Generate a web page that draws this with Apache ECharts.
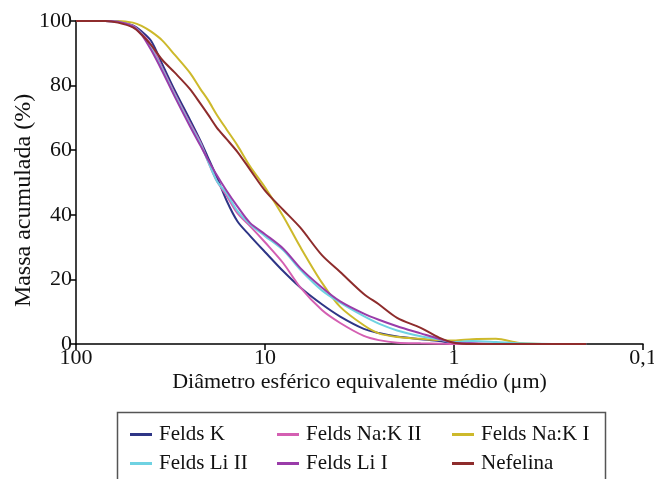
<!DOCTYPE html>
<html>
<head>
<meta charset="utf-8">
<script src="https://cdn.jsdelivr.net/npm/echarts@6/dist/echarts.min.js"></script>
<style>
  html, body { margin: 0; padding: 0; background: #fff; }
  #chart { width: 654px; height: 479px; }
</style>
</head>
<body>
<div id="chart"></div>
<script>
// diâmetro (µm), eixo log invertido
var diam = [100, 70, 60, 50, 45, 40, 35, 30, 25, 22, 20, 18, 16, 14, 12, 10, 8, 6.5, 5, 4, 3, 2.5, 2, 1.5, 1.2, 1, 0.8, 0.6, 0.45, 0.3, 0.2];

// massa acumulada (%)
var feldsK     = [100, 100, 99.8, 98.6, 96.8, 93.8, 86.7, 78.5, 69.5, 63, 57.7, 51.7, 44.5, 38, 33.5, 28.5, 22.5, 17.5, 12.3, 8.5, 4.7, 3.4, 2.3, 1.5, 0.9, 0.3, 0.1, 0, 0, 0, 0];
var feldsNaKII = [100, 100, 99.8, 98.5, 96.2, 92.5, 85.5, 77.5, 68.5, 62.5, 56.5, 50.5, 46, 40.5, 36.5, 31.5, 25, 17.5, 10.5, 6.5, 2.5, 1.2, 0.4, 0.2, 0.1, 0, 0, 0, 0, 0, 0];
var feldsNaKI  = [100, 100, 100, 99.5, 98.5, 96.7, 94, 89.5, 84, 79, 75.5, 71, 66.5, 61.5, 55, 48.5, 39.5, 30, 19, 11.5, 5.8, 3.3, 2.2, 1.6, 1.2, 1.1, 1.5, 1.6, 0.3, 0, 0];
var feldsLiII  = [100, 100, 99.8, 98.3, 96, 91.5, 85, 77, 68, 62, 56.5, 50.5, 46.7, 41.2, 37.1, 33.4, 29, 23, 16.6, 12.8, 8.6, 6.3, 4.2, 2.4, 1.4, 0.6, 0.9, 0.6, 0.2, 0, 0];
var feldsLiI   = [100, 100, 99.8, 98.3, 95.8, 91, 84.5, 76.5, 67.5, 61.5, 57, 52.3, 47.5, 42.6, 37.5, 34, 29.5, 23.5, 17.5, 13.2, 9.4, 7.5, 5.5, 3.3, 1.6, 0.4, 0.2, 0, 0, 0, 0];
var nefelina   = [100, 100, 99.5, 98, 95.8, 92.5, 88, 84, 79, 74.5, 71, 67, 63.5, 59.5, 54, 47.5, 41.5, 36, 27.5, 22.3, 15.5, 12.3, 8.1, 5, 2, 0.4, 0, 0, 0, 0, 0];

var names  = ['Felds K', 'Felds Na:K II', 'Felds Na:K I', 'Felds Li II', 'Felds Li I', 'Nefelina'];
var values = [feldsK, feldsNaKII, feldsNaKI, feldsLiII, feldsLiI, nefelina];
var colors = ['#2e3586', '#d45fb2', '#cdb92b', '#6fd2e2', '#9a3ca9', '#8e2c2c'];

var xTicks = [100, 10, 1, 0.1];
var yTicks = [0, 20, 40, 60, 80, 100];

var font = '"Liberation Serif", "DejaVu Serif", serif';

function pairs(ys) {
  var out = [];
  for (var i = 0; i < diam.length; i++) out.push([diam[i], ys[i]]);
  return out;
}

var series = [];
for (var k = 0; k < names.length; k++) {
  series.push({
    name: names[k],
    type: 'line',
    data: pairs(values[k]),
    showSymbol: false,
    smooth: 0.3,
    lineStyle: { width: 2, color: colors[k] },
    itemStyle: { color: colors[k] }
  });
}

function legendCol(left, items) {
  return {
    orient: 'vertical',
    left: left,
    top: 424,
    padding: 0,
    itemGap: 8,
    itemWidth: 22,
    itemHeight: 3,
    icon: 'rect',
    data: items,
    textStyle: { fontFamily: font, fontSize: 21, color: '#111', lineHeight: 21, padding: [0, 0, 0, 2] }
  };
}

var chart = echarts.init(document.getElementById('chart'));
chart.setOption({
  backgroundColor: '#fff',
  animation: false,
  grid: { left: 76, right: 11, top: 21, bottom: 135, containLabel: false, outerBoundsMode: 'none' },
  legend: [
    legendCol(130, [names[0], names[3]]),
    legendCol(277, [names[1], names[4]]),
    legendCol(452, [names[2], names[5]])
  ],
  graphic: [{
    type: 'rect',
    left: 115, top: 410,
    shape: { width: 488, height: 100 },
    style: { fill: 'none', stroke: '#555', lineWidth: 1.5 }
  }],
  xAxis: {
    type: 'log',
    logBase: 10,
    inverse: true,
    min: 0.1,
    max: 100,
    name: 'Diâmetro esférico equivalente médio (μm)',
    nameLocation: 'middle',
    nameGap: 27,
    nameMoveOverlap: false,
    nameTextStyle: { fontFamily: font, fontSize: 22, color: '#111' },
    axisLine: { show: true, lineStyle: { color: '#000', width: 1.5 } },
    axisTick: { show: true, length: 6, lineStyle: { color: '#000', width: 1.5 } },
    minorTick: { show: false },
    splitLine: { show: false },
    axisLabel: {
      fontFamily: font, fontSize: 22, color: '#111', margin: 3,
      formatter: function (v) {
        for (var i = 0; i < xTicks.length; i++) {
          if (Math.abs(v - xTicks[i]) < 1e-9) return String(xTicks[i]).replace('.', ',');
        }
        return '';
      }
    }
  },
  yAxis: {
    type: 'value',
    min: yTicks[0],
    max: yTicks[yTicks.length - 1],
    interval: 20,
    name: 'Massa acumulada (%)',
    nameLocation: 'middle',
    nameGap: 40,
    nameMoveOverlap: false,
    nameTextStyle: { fontFamily: font, fontSize: 24, color: '#111', padding: [0, 36, 0, 0] },
    axisLine: { show: true, lineStyle: { color: '#000', width: 1.5 } },
    axisTick: { show: true, length: 6, lineStyle: { color: '#000', width: 1.5 } },
    splitLine: { show: false },
    axisLabel: { fontFamily: font, fontSize: 22, color: '#111', margin: 4 }
  },
  series: series
});
</script>
</body>
</html>
